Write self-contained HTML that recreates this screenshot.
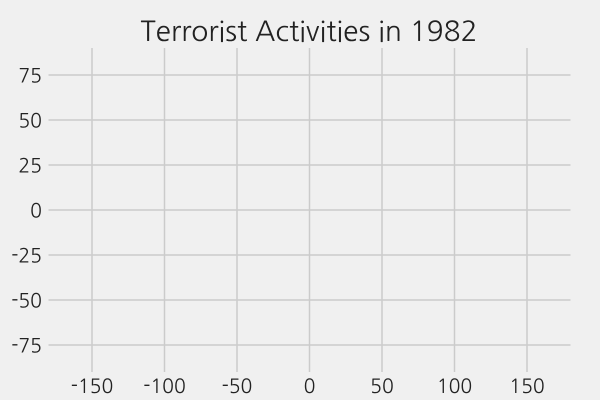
<!DOCTYPE html>
<html><head><meta charset="utf-8"><style>
html,body{margin:0;padding:0;background:#f0f0f0;}
svg{display:block;font-family:"NanumGothic","DejaVu Sans",sans-serif;}
</style></head><body>
<svg id="chart" width="600" height="400">
<rect width="600" height="400" fill="#f0f0f0"/>
<text x="309" y="41" text-anchor="middle" font-size="28" fill="#222">Terrorist Activities in 1982</text>
<g id="grid"></g>
<g id="ticks"></g>
</svg>
<script>
const xTicks = [-150, -100, -50, 0, 50, 100, 150];
const yTicks = [75, 50, 25, 0, -25, -50, -75];
const xDomain = [-180, 180];
const yDomain = [-90, 90];
const L = 48.5, R = 570.5, T = 48, B = 372;
function xs(v){return L + (v - xDomain[0]) / (xDomain[1] - xDomain[0]) * (R - L);}
function ys(v){return B - (v - yDomain[0]) / (yDomain[1] - yDomain[0]) * (B - T);}
const NS = "http://www.w3.org/2000/svg";
const grid = document.getElementById('grid');
const ticks = document.getElementById('ticks');
xTicks.forEach(v => {
  const l = document.createElementNS(NS, 'line');
  l.setAttribute('x1', xs(v)); l.setAttribute('x2', xs(v));
  l.setAttribute('y1', T); l.setAttribute('y2', B);
  l.setAttribute('stroke', '#cbcbcb'); l.setAttribute('stroke-width', '1.5');
  
  
  grid.appendChild(l);
  const t = document.createElementNS(NS, 'text');
  t.setAttribute('x', xs(v)); t.setAttribute('y', 393);
  t.setAttribute('text-anchor', 'middle'); t.setAttribute('font-size', '19.5'); t.setAttribute('fill', '#222');
  t.textContent = v;
  
  
  ticks.appendChild(t);
});
yTicks.forEach(v => {
  const l = document.createElementNS(NS, 'line');
  l.setAttribute('x1', L); l.setAttribute('x2', R);
  l.setAttribute('y1', ys(v)); l.setAttribute('y2', ys(v));
  l.setAttribute('stroke', '#cbcbcb'); l.setAttribute('stroke-width', '1.5');
  
  
  grid.appendChild(l);
  const t = document.createElementNS(NS, 'text');
  t.setAttribute('x', 42); t.setAttribute('y', ys(v) + 7.5);
  t.setAttribute('text-anchor', 'end'); t.setAttribute('font-size', '19.5'); t.setAttribute('fill', '#222');
  t.textContent = v;
  
  
  ticks.appendChild(t);
});
</script>
</body></html>
